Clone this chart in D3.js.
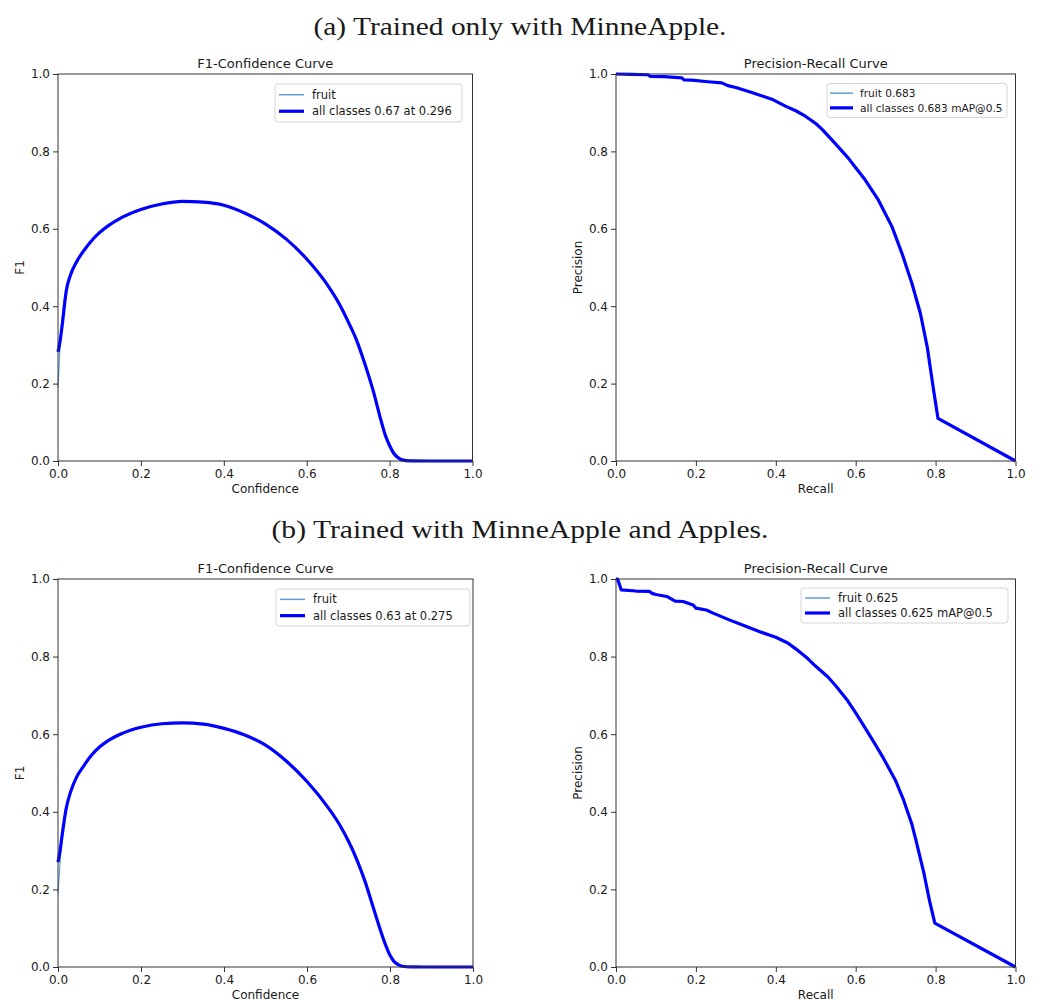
<!DOCTYPE html>
<html>
<head>
<meta charset="utf-8">
<script src="https://cdn.jsdelivr.net/npm/d3@7"></script>
<style>
  body { margin: 0; background: #fff; }
  text { font-family: "DejaVu Sans", sans-serif; fill: #1a1a1a; }
</style>
</head>
<body>
<script>
const width = 1040;
const height = 1001;

// figure captions and panel titles
const captions = ["(a) Trained only with MinneApple.", "(b) Trained with MinneApple and Apples."];
const panelTitles = ["F1-Confidence Curve", "Precision-Recall Curve"];
const xLabels = ["Confidence", "Recall"];
const yLabels = ["F1", "Precision"];
const ticks = [0, 0.2, 0.4, 0.6, 0.8, 1.0];

// legends
const legendA_f1 = ["fruit", "all classes 0.67 at 0.296"];
const legendA_pr = ["fruit 0.683", "all classes 0.683 mAP@0.5"];
const legendB_f1 = ["fruit", "all classes 0.63 at 0.275"];
const legendB_pr = ["fruit 0.625", "all classes 0.625 mAP@0.5"];

// F1-confidence curves
const confidence = [0, 0.005, 0.01, 0.02, 0.03, 0.045, 0.06, 0.08, 0.1, 0.12, 0.15, 0.2, 0.25, 0.3, 0.35, 0.4, 0.45, 0.5, 0.55, 0.6, 0.65, 0.68, 0.7, 0.72, 0.74, 0.76, 0.78, 0.79, 0.8, 0.81, 0.82, 0.83, 0.85, 0.9, 1.0];
const f1AllA   = [0.282, 0.31, 0.35, 0.44, 0.48, 0.515, 0.54, 0.568, 0.59, 0.607, 0.627, 0.65, 0.664, 0.671, 0.669, 0.661, 0.641, 0.613, 0.574, 0.522, 0.455, 0.403, 0.36, 0.313, 0.252, 0.183, 0.102, 0.066, 0.04, 0.02, 0.009, 0.003, 0.0005, 0, 0];
const f1FruitA = [0.19, 0.3, 0.37, 0.45, 0.485, 0.515, 0.54, 0.568, 0.59, 0.607, 0.627, 0.65, 0.664, 0.671, 0.669, 0.661, 0.641, 0.613, 0.574, 0.522, 0.455, 0.403, 0.36, 0.313, 0.25, 0.18, 0.095, 0.06, 0.035, 0.016, 0.007, 0.002, 0.0005, 0, 0];
const f1AllB   = [0.27, 0.3, 0.34, 0.41, 0.45, 0.49, 0.515, 0.545, 0.567, 0.583, 0.6, 0.618, 0.627, 0.629, 0.626, 0.615, 0.598, 0.572, 0.531, 0.478, 0.412, 0.364, 0.324, 0.277, 0.22, 0.152, 0.085, 0.055, 0.03, 0.014, 0.006, 0.002, 0.0005, 0, 0];
const f1FruitB = [0.19, 0.27, 0.33, 0.41, 0.45, 0.49, 0.515, 0.545, 0.567, 0.583, 0.6, 0.618, 0.627, 0.629, 0.626, 0.615, 0.598, 0.572, 0.531, 0.478, 0.412, 0.364, 0.324, 0.277, 0.22, 0.152, 0.085, 0.055, 0.03, 0.014, 0.006, 0.002, 0.0005, 0, 0];

// precision-recall curves
const recallA    = [0, 0.04, 0.08, 0.086, 0.12, 0.165, 0.17, 0.19, 0.23, 0.265, 0.28, 0.3, 0.34, 0.39, 0.424, 0.45, 0.474, 0.5, 0.516, 0.549, 0.582, 0.6, 0.624, 0.657, 0.691, 0.716, 0.741, 0.762, 0.779, 0.795, 0.806, 1.0];
const precisionA = [1.0, 0.999, 0.998, 0.994, 0.993, 0.99, 0.985, 0.984, 0.98, 0.977, 0.97, 0.965, 0.952, 0.935, 0.917, 0.905, 0.891, 0.872, 0.857, 0.82, 0.782, 0.758, 0.726, 0.674, 0.605, 0.536, 0.458, 0.381, 0.295, 0.183, 0.11, 0];
const recallB    = [0, 0.004, 0.013, 0.05, 0.084, 0.09, 0.1, 0.127, 0.148, 0.168, 0.193, 0.2, 0.226, 0.243, 0.285, 0.32, 0.36, 0.4, 0.43, 0.45, 0.48, 0.5, 0.53, 0.55, 0.58, 0.6, 0.62, 0.65, 0.67, 0.7, 0.72, 0.74, 0.75, 0.77, 0.785, 0.798, 1.0];
const precisionB = [1.0, 1.0, 0.972, 0.969, 0.968, 0.963, 0.96, 0.955, 0.943, 0.942, 0.933, 0.925, 0.92, 0.912, 0.894, 0.88, 0.864, 0.85, 0.835, 0.82, 0.795, 0.775, 0.748, 0.725, 0.686, 0.655, 0.622, 0.572, 0.537, 0.48, 0.43, 0.37, 0.33, 0.245, 0.17, 0.113, 0];

const fruitColor = "#5f9ed6";
const allColor = "#0000ff";

const svg = d3.select("body").append("svg")
    .attr("width", width)
    .attr("height", height);

// captions
const capPos = [{x: 520, y: 35, len: 413}, {x: 520, y: 538, len: 497}];
captions.forEach((c, i) => {
    svg.append("text")
       .attr("x", capPos[i].x)
       .attr("y", capPos[i].y)
       .attr("text-anchor", "middle")
       .attr("textLength", capPos[i].len)
       .attr("lengthAdjust", "spacingAndGlyphs")
       .style("font-family", "'Liberation Serif', 'DejaVu Serif', serif")
       .style("font-size", "25px")
       .text(c);
});

const panels = [
    {x0: 58, x1: 472.5, y0: 74, y1: 461, kind: 0, xs: confidence, all: f1AllA, fruit: f1FruitA, legend: legendA_f1,
     lg: {x: 275, y: 84, w: 187, h: 38, row: 16.5, fs: 11.5, l0: 4, l1: 29, tx: 37}},
    {x0: 616, x1: 1015.5, y0: 74, y1: 461, kind: 1, xs: recallA, all: precisionA, fruit: precisionA, legend: legendA_pr,
     lg: {x: 827, y: 83.5, w: 180, h: 34, row: 14.7, fs: 10.6, l0: 3, l1: 26, tx: 33}},
    {x0: 58, x1: 473, y0: 579, y1: 967, kind: 0, xs: confidence, all: f1AllB, fruit: f1FruitB, legend: legendB_f1,
     lg: {x: 276, y: 589, w: 194, h: 37, row: 16.3, fs: 11.5, l0: 4, l1: 29, tx: 37}},
    {x0: 616, x1: 1015.5, y0: 579, y1: 967, kind: 1, xs: recallB, all: precisionB, fruit: precisionB, legend: legendB_pr,
     lg: {x: 801, y: 588, w: 207, h: 35, row: 15, fs: 11.5, l0: 4, l1: 29, tx: 37}}
];

panels.forEach(p => {
    const x = d3.scaleLinear().domain([0, 1]).range([p.x0, p.x1]);
    const y = d3.scaleLinear().domain([0, 1]).range([p.y1, p.y0]);
    const g = svg.append("g");

    const clipId = "clip" + p.x0 + "_" + p.y0;
    g.append("clipPath").attr("id", clipId)
     .append("rect")
     .attr("x", p.x0 - 2).attr("y", p.y0 - 2)
     .attr("width", p.x1 - p.x0 + 4).attr("height", p.y1 - p.y0 + 4);

    const line = d3.line()
        .x((d, i) => x(p.xs[i]))
        .y(d => y(d))
        .curve(p.kind === 0 ? d3.curveMonotoneX : d3.curveLinear);

    const plot = g.append("g").attr("clip-path", `url(#${clipId})`);
    plot.append("path")
        .attr("d", line(p.fruit))
        .attr("fill", "none")
        .attr("stroke", fruitColor)
        .attr("stroke-width", 1.2);
    plot.append("path")
        .attr("d", line(p.all))
        .attr("fill", "none")
        .attr("stroke", allColor)
        .attr("stroke-width", 3.2)
        .attr("stroke-linejoin", "round");

    // frame
    g.append("rect")
     .attr("x", p.x0).attr("y", p.y0)
     .attr("width", p.x1 - p.x0).attr("height", p.y1 - p.y0)
     .attr("fill", "none")
     .attr("stroke", "#333")
     .attr("stroke-width", 1);

    const xAxis = d3.axisBottom(x).tickValues(ticks).tickFormat(d3.format(".1f")).tickSize(5).tickPadding(3);
    const gx = g.append("g").attr("transform", `translate(0,${p.y1})`).call(xAxis);
    const yAxis = d3.axisLeft(y).tickValues(ticks).tickFormat(d3.format(".1f")).tickSize(5).tickPadding(3);
    const gy = g.append("g").attr("transform", `translate(${p.x0},0)`).call(yAxis);
    [gx, gy].forEach(a => {
        a.select(".domain").remove();
        a.selectAll("line").attr("stroke", "#333");
        a.selectAll("text").style("font-size", "12px").attr("fill", "#1a1a1a");
    });

    g.append("text")
     .attr("x", (p.x0 + p.x1) / 2).attr("y", p.y0 - 6)
     .attr("text-anchor", "middle")
     .style("font-size", "13px")
     .text(panelTitles[p.kind]);
    g.append("text")
     .attr("x", (p.x0 + p.x1) / 2).attr("y", p.y1 + 32)
     .attr("text-anchor", "middle")
     .style("font-size", "12px")
     .text(xLabels[p.kind]);
    g.append("text")
     .attr("transform", `translate(${p.x0 - 34},${(p.y0 + p.y1) / 2}) rotate(-90)`)
     .attr("text-anchor", "middle")
     .style("font-size", "12px")
     .text(yLabels[p.kind]);

    // legend
    const lg = g.append("g").attr("transform", `translate(${p.lg.x},${p.lg.y})`);
    lg.append("rect")
      .attr("width", p.lg.w).attr("height", p.lg.h)
      .attr("rx", 3)
      .attr("fill", "#fff").attr("fill-opacity", 0.8)
      .attr("stroke", "#d6d6d6");
    p.legend.forEach((t, i) => {
        const cy = p.lg.h / 2 + (i - 0.5) * p.lg.row;
        lg.append("line")
          .attr("x1", p.lg.l0).attr("x2", p.lg.l1)
          .attr("y1", cy).attr("y2", cy)
          .attr("stroke", i === 0 ? fruitColor : allColor)
          .attr("stroke-width", i === 0 ? 1.5 : 3.2);
        lg.append("text")
          .attr("x", p.lg.tx).attr("y", cy + 4)
          .style("font-size", p.lg.fs + "px")
          .text(t);
    });
});
</script>
</body>
</html>
